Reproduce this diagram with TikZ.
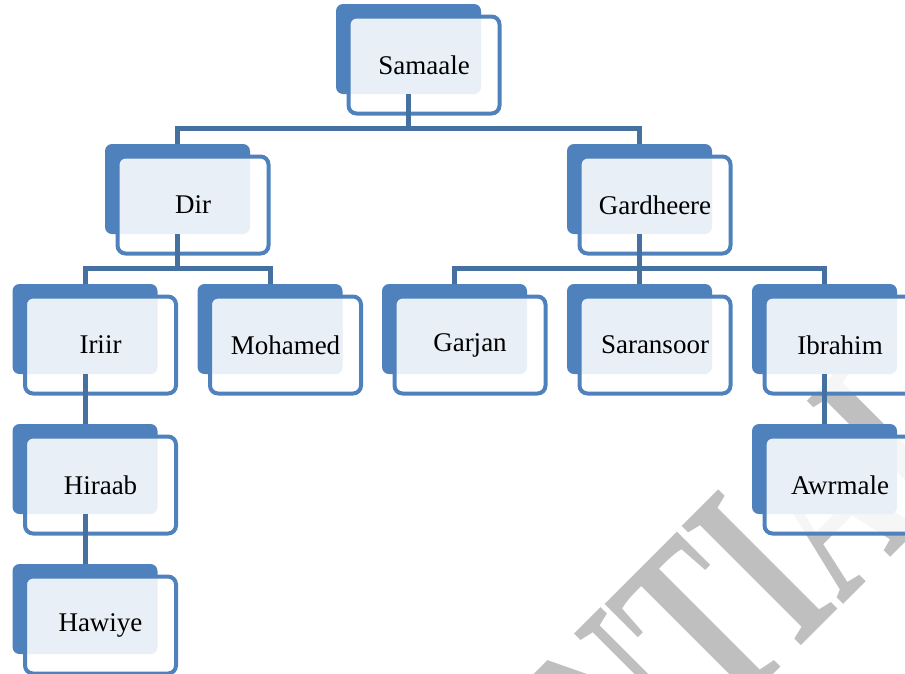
\documentclass[tikz,border=0pt]{standalone}
\usepackage{graphicx}
\usepackage{fontspec}
\setmainfont{Liberation Serif}
\usetikzlibrary{backgrounds}

\definecolor{boxblue}{HTML}{4F81BD}
\definecolor{linkblue}{HTML}{44719F}

\tikzset{
    frontbox/.style={draw=boxblue, line width=4pt, rounded corners=8pt,
        fill=white, fill opacity=0.875, text opacity=1,
        minimum width=151pt, minimum height=97pt, inner sep=0pt,
        font=\fontsize{27}{32}\selectfont},
    backbox/.style={fill=boxblue, rounded corners=7pt}
}

\begin{document}
\begin{tikzpicture}[level distance=140pt,
        level 2/.style={sibling distance=185pt},
        edge from parent/.style={draw=linkblue, line width=5pt},
        edge from parent path={([shift={(-15.5pt,-29pt)}]\tikzparentnode.center)
            -- ([shift={(-15.5pt,-63.5pt)}]\tikzparentnode.center)
            -| ([shift={(-15.5pt,61pt)}]\tikzchildnode.center)}]
    \useasboundingbox (0pt,0pt) rectangle (905pt,-673pt);

    \node [frontbox] (samaale) at (424pt,-65pt) {Samaale} [sibling distance = 462pt]
        child {node [frontbox] (dir) {Dir}
            child {node [frontbox] (iriir) {Iriir}
                child {node [frontbox] (hiraab) {Hiraab}
                    child {node [frontbox] (hawiye) {Hawiye}}
                }
            }
            child {node [frontbox] (mohamed) {Mohamed}}
        }
        child {node [frontbox] (gardheere) {Gardheere}
            child {node [frontbox] (garjan) {Garjan}}
            child {node [frontbox] (saransoor) {Saransoor}}
            child {node [frontbox] (ibrahim) {Ibrahim}
                child {node [frontbox] (awrmale) {Awrmale}}
            }
        }
        ;

    % watermark and back plates
    \begin{scope}[on background layer]
        \clip (0pt,0pt) rectangle (905pt,-673pt);
        \node [text=black!25, rotate=45, font=\bfseries\fontsize{161}{161}\selectfont] (mark) at (760pt,-567pt) {\scalebox{1}[1.6]{NTIAL}};
        \foreach \n in {samaale,dir,gardheere,iriir,mohamed,garjan,saransoor,ibrahim,hiraab,awrmale,hawiye}
            \fill [backbox] ([shift={(-88pt,-29pt)}]\n.center) rectangle ([shift={(57pt,61pt)}]\n.center);
    \end{scope}

\end{tikzpicture}
\end{document}
